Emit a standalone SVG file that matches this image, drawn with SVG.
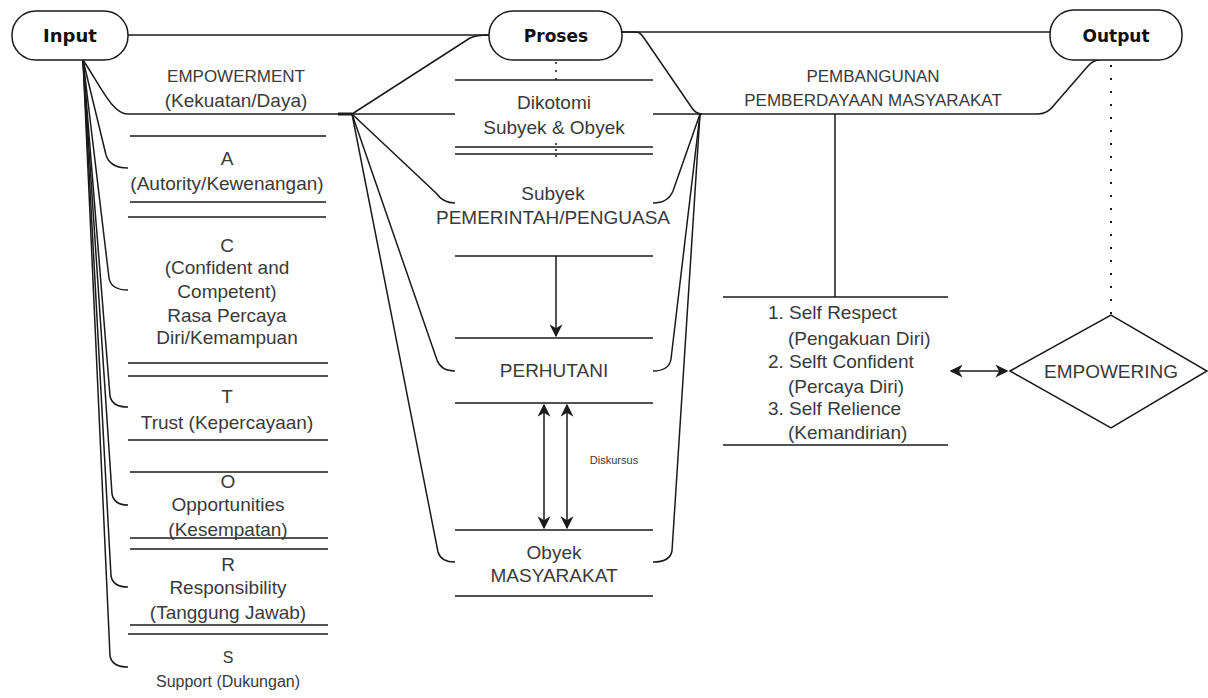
<svg xmlns="http://www.w3.org/2000/svg" width="1208" height="698" viewBox="0 0 1208 698">
<style>
.ln{fill:none;stroke:#1a1a1a;stroke-width:1.5}
.dot{fill:none;stroke:#1a1a1a;stroke-width:2;stroke-dasharray:2 11}
.pill{fill:#fff;stroke:#1a1a1a;stroke-width:1.5}
.hd{font-family:"DejaVu Sans",Verdana,sans-serif;font-weight:bold;font-size:17px;fill:#111;text-anchor:middle}
.t{font-family:"Liberation Sans",Arial,sans-serif;font-size:19px;fill:#3a3a3a;text-anchor:middle}
.t17{font-family:"Liberation Sans",Arial,sans-serif;font-size:17px;fill:#3a3a3a;text-anchor:middle}
.ts{font-family:"Liberation Sans",Arial,sans-serif;font-size:19px;fill:#3a3a3a}
.sm{font-family:"Liberation Sans",Arial,sans-serif;font-size:16px;fill:#3a3a3a;text-anchor:middle}
.xs{font-family:"Liberation Sans",Arial,sans-serif;font-size:11px;fill:#3a3a3a;text-anchor:middle}
</style>
<defs>
<marker id="ah2" viewBox="0 0 10 10" refX="9" refY="5" markerWidth="13" markerHeight="13" markerUnits="userSpaceOnUse" orient="auto-start-reverse">
<path d="M0,0 L10,5 L0,10 L3,5 Z" fill="#1a1a1a"/>
</marker>
</defs>
<rect width="1208" height="698" fill="#fff"/>

<g id="connectors">
<path class="ln" d="M128 35 L489 35"/>
<path class="ln" d="M622 32 L1050 32"/>
<path class="ln" d="M83 60 C100 85 112 114 128 114"/>
<path class="ln" d="M83 60 L106 155 Q110 168 128 168"/>
<path class="ln" d="M83 60 L109 278 Q111 290 128 290"/>
<path class="ln" d="M83 60 L110 396 Q112 407 128 407"/>
<path class="ln" d="M83 60 L112 494 Q114 505 128 505"/>
<path class="ln" d="M83 60 L111 576 Q113 587 128 587"/>
<path class="ln" d="M83 60 L110 656 Q112 667 128 667"/>
<path class="ln" d="M128 114 L455 114"/>
<path class="ln" d="M338 114 L352 114" style="stroke-width:3"/>
<path class="ln" d="M653 114 L1038 114"/>
<path class="ln" d="M352 114 L470 38 Q476 35 489 35"/>
<path class="ln" d="M352 114 L436 193 Q443 203 455 203"/>
<path class="ln" d="M352 114 L437 360 Q441 371 455 371"/>
<path class="ln" d="M352 114 L438 552 Q441 562 455 562"/>
<path class="ln" d="M622 32 L636 32 Q640 32 644 38 L692 108 Q696 114 702 114"/>
<path class="ln" d="M700 114 L673 191 Q668 203 653 203"/>
<path class="ln" d="M700 114 L671 359 Q669 371 653 371"/>
<path class="ln" d="M700 114 L672 551 Q670 562 653 562"/>
<path class="ln" d="M1038 114 Q1048 114 1055 104 L1088 66 Q1093 60 1100 60"/>
<path class="ln" d="M556 62 L556 80" style="stroke-dasharray:2 6"/>
<path class="ln" d="M556 143 L556 157" style="stroke-dasharray:2 4"/>
<path class="ln" d="M556 256 L556 336" marker-end="url(#ah2)"/>
<path class="ln" d="M544 405 L544 528" marker-start="url(#ah2)" marker-end="url(#ah2)"/>
<path class="ln" d="M567 405 L567 528" marker-start="url(#ah2)" marker-end="url(#ah2)"/>
<path class="ln" d="M835 114 L835 297"/>
<path class="dot" d="M1111 65 L1111 314"/>
<path class="ln" d="M951 371 L1007 371" marker-start="url(#ah2)" marker-end="url(#ah2)"/>
</g>

<g id="input">
<rect class="pill" x="12" y="11" width="116" height="49" rx="24" ry="24"/>
<text class="hd" x="70" y="42" style="font-size:18px">Input</text>
</g>
<g id="proses">
<rect class="pill" x="489" y="11" width="133" height="49" rx="24" ry="24"/>
<text class="hd" x="556" y="42">Proses</text>
</g>
<g id="output">
<rect class="pill" x="1050" y="10" width="132" height="50" rx="24" ry="24"/>
<text class="hd" x="1116" y="42">Output</text>
</g>

<g id="empowerment">
<text class="t17" x="236" y="82">EMPOWERMENT</text>
<text class="t" x="236" y="107">(Kekuatan/Daya)</text>
</g>
<g id="a">
<path class="ln" d="M130 136 L326 136 M130 202 L326 202"/>
<text class="t" x="227" y="165">A</text>
<text class="t" x="227" y="190">(Autority/Kewenangan)</text>
</g>
<g id="c">
<path class="ln" d="M128 217 L326 217 M128 363 L328 363"/>
<text class="t" x="227" y="252">C</text>
<text class="t" x="227" y="274">(Confident and</text>
<text class="t" x="227" y="298">Competent)</text>
<text class="t" x="227" y="322">Rasa Percaya</text>
<text class="t" x="227" y="344">Diri/Kemampuan</text>
</g>
<g id="t">
<path class="ln" d="M128 376 L328 376 M128 440 L328 440"/>
<text class="t" x="227" y="403">T</text>
<text class="t" x="227" y="429">Trust (Kepercayaan)</text>
</g>
<g id="o">
<path class="ln" d="M130 472 L328 472 M130 538 L328 538"/>
<text class="t" x="228" y="488">O</text>
<text class="t" x="228" y="511">Opportunities</text>
<text class="t" x="228" y="536">(Kesempatan)</text>
</g>
<g id="r">
<path class="ln" d="M130 549 L328 549 M130 625 L328 625"/>
<text class="t" x="228" y="571">R</text>
<text class="t" x="228" y="594">Responsibility</text>
<text class="t" x="228" y="619">(Tanggung Jawab)</text>
</g>
<g id="s">
<path class="ln" d="M128 634 L328 634"/>
<text class="sm" x="228" y="663">S</text>
<text class="sm" x="228" y="687">Support (Dukungan)</text>
</g>

<g id="dikotomi">
<path class="ln" d="M455 80 L653 80 M455 147 L653 147"/>
<text class="t" x="554" y="109">Dikotomi</text>
<text class="t" x="554" y="134">Subyek &amp; Obyek</text>
</g>
<g id="subyek">
<path class="ln" d="M455 154 L653 154 M455 256 L653 256"/>
<text class="t" x="553" y="200">Subyek</text>
<text class="t" x="553" y="224">PEMERINTAH/PENGUASA</text>
</g>
<g id="perhutani">
<path class="ln" d="M455 338 L653 338 M455 403 L653 403"/>
<text class="t" x="554" y="377">PERHUTANI</text>
</g>
<g id="diskursus">
<text class="xs" x="614" y="464">Diskursus</text>
</g>
<g id="obyek">
<path class="ln" d="M455 530 L653 530 M455 596 L653 596"/>
<text class="t" x="554" y="559">Obyek</text>
<text class="t" x="554" y="582">MASYARAKAT</text>
</g>

<g id="pembangunan">
<text class="t17" x="873" y="82">PEMBANGUNAN</text>
<text class="t17" x="873" y="106">PEMBERDAYAAN MASYARAKAT</text>
</g>
<g id="self">
<path class="ln" d="M723 297 L948 297 M723 445 L948 445"/>
<text class="ts" x="768" y="319">1. Self Respect</text>
<text class="ts" x="788" y="345">(Pengakuan Diri)</text>
<text class="ts" x="768" y="368">2. Selft Confident</text>
<text class="ts" x="788" y="393">(Percaya Diri)</text>
<text class="ts" x="768" y="415">3. Self Relience</text>
<text class="ts" x="788" y="439">(Kemandirian)</text>
</g>
<g id="empowering">
<polygon points="1010,371 1111,315 1207,371 1111,428" fill="#fff" stroke="#1a1a1a" stroke-width="1.5"/>
<text class="t" x="1111" y="378">EMPOWERING</text>
</g>
</svg>
